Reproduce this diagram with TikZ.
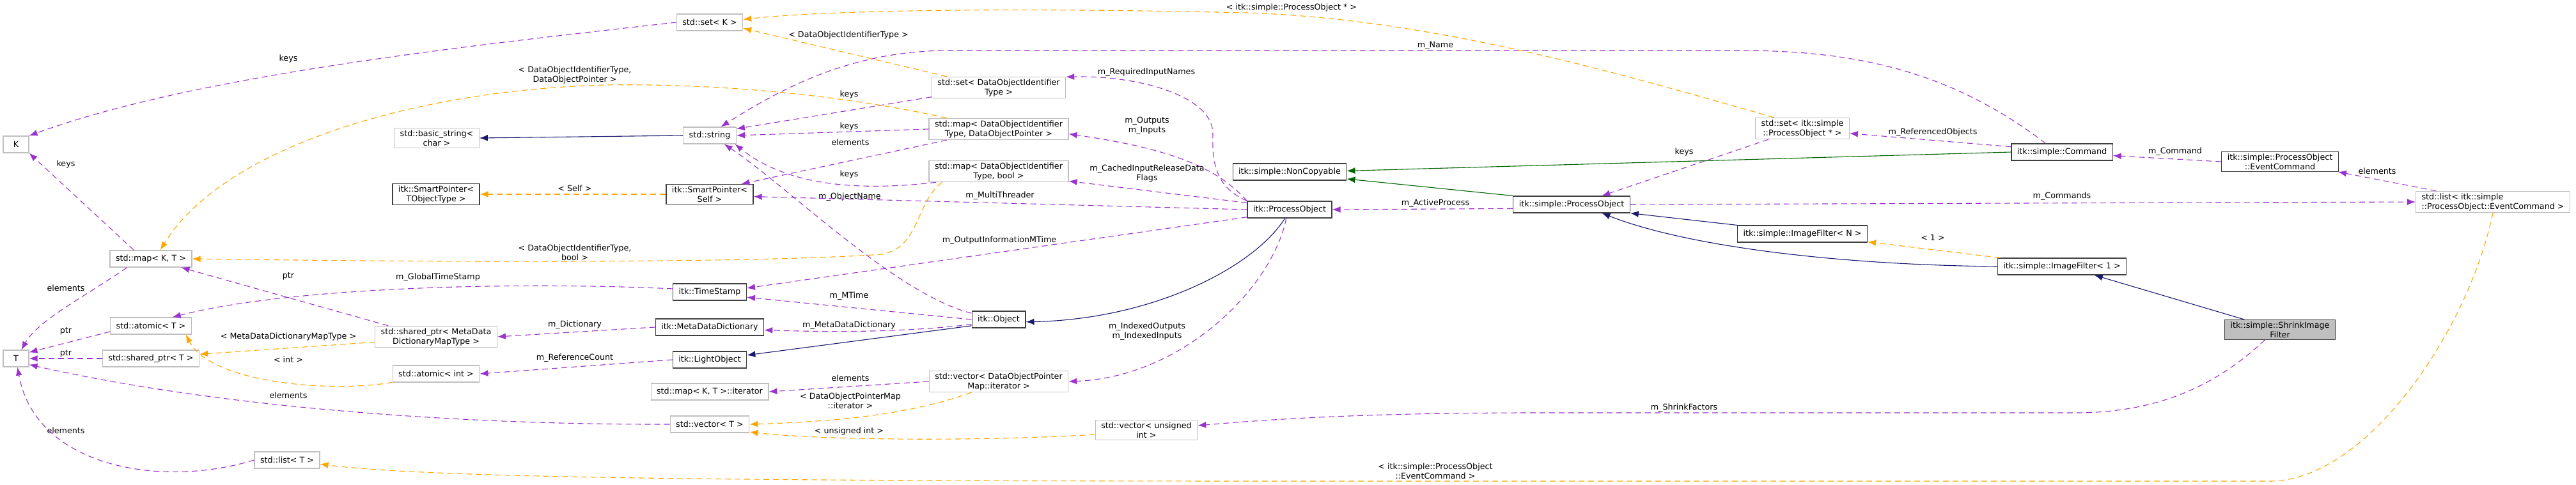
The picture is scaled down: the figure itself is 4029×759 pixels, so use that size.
\documentclass[tikz,border=0pt]{standalone}
\usepackage{fontspec}
\setmainfont{DejaVu Sans}
\usetikzlibrary{arrows.meta}
\definecolor{orchid}{HTML}{9A32CD}
\definecolor{tplorange}{HTML}{FFA500}
\definecolor{navy}{HTML}{191970}
\definecolor{pgreen}{HTML}{006400}
\definecolor{lgrey}{HTML}{BFBFBF}
\definecolor{dgrey}{HTML}{404040}

\begin{document}
\begin{tikzpicture}[
x=1pt,y=-1pt,
font=\fontsize{12.7}{15}\selectfont,
ext/.style={
  draw=lgrey,
  line width=1.2pt,
  fill=white,
  inner xsep=9pt,
  inner ysep=3pt,
  minimum height=26pt,
  minimum width=40pt,
  align=center
},
cls/.style={
  ext,
  draw=dgrey
},
self/.style={
  cls,
  fill=lgrey
},
lbl/.style={
  inner sep=0pt,
  align=center
},
mem/.style={
  draw=orchid,
  line width=1.1pt,
  dash pattern=on 9pt off 6pt,
  -{Latex[length=13pt,width=10pt]}
},
tmpl/.style={
  mem,
  draw=tplorange
},
inh/.style={
  draw=navy,
  line width=1.1pt,
  -{Latex[length=13pt,width=10pt]}
},
prot/.style={
  inh,
  draw=pgreen
}
]
\useasboundingbox (0,0) rectangle (4029,759);

\node[ext] (K) at (25,226) {K};
\node[ext] (T) at (25,561) {T};
\node[ext] (mapKT) at (236,405) {std::map< K, T >};
\node[ext] (atomT) at (236,510) {std::atomic< T >};
\node[ext] (shptrT) at (236,561) {std::shared\_ptr< T >};
\node[ext] (listT) at (449,720) {std::list< T >};
\node[ext] (bstr) at (683,216) {std::basic\_string<\\ char >};
\node[cls] (spTobj) at (682,304) {itk::SmartPointer<\\ TObjectType >};
\node[ext] (shptrMD) at (682,527) {std::shared\_ptr< MetaData\\DictionaryMapType >};
\node[ext] (atomInt) at (682,585) {std::atomic< int >};
\node[ext] (setK) at (1110,35) {std::set< K >};
\node[ext] (str) at (1110,212) {std::string};
\node[cls] (spSelf) at (1110,304) {itk::SmartPointer<\\ Self >};
\node[cls] (tstamp) at (1110,457) {itk::TimeStamp};
\node[cls] (mdd) at (1110,512) {itk::MetaDataDictionary};
\node[cls] (lobj) at (1110,563) {itk::LightObject};
\node[ext] (mapIt) at (1110,613) {std::map< K, T >::iterator};
\node[ext] (vecT) at (1110,664) {std::vector< T >};
\node[ext] (setId) at (1562,137) {std::set< DataObjectIdentifier\\ Type >};
\node[ext] (mapPtr) at (1562,202) {std::map< DataObjectIdentifier\\ Type, DataObjectPointer >};
\node[ext] (mapBool) at (1562,268) {std::map< DataObjectIdentifier\\ Type, bool >};
\node[cls] (obj) at (1562,500) {itk::Object};
\node[ext] (vecIt) at (1562,597) {std::vector< DataObjectPointer\\ Map::iterator >};
\node[ext] (vecUInt) at (1793,673) {std::vector< unsigned\\ int >};
\node[cls] (nocopy) at (2017,269) {itk::simple::NonCopyable};
\node[cls] (procobj) at (2017,328) {itk::ProcessObject};
\node[cls] (sproc) at (2458,320) {itk::simple::ProcessObject};
\node[ext] (setProc) at (2819,201) {std::set< itk::simple\\ ::ProcessObject * >};
\node[cls] (filterN) at (2819,366) {itk::simple::ImageFilter< N >};
\node[cls] (cmd) at (3225,238) {itk::simple::Command};
\node[cls] (filter1) at (3225,417) {itk::simple::ImageFilter< 1 >};
\node[cls] (evcmd) at (3566,253) {itk::simple::ProcessObject\\ ::EventCommand};
\node[self] (shrink) at (3566,516) {itk::simple::ShrinkImage\\ Filter};
\node[ext,align=left] (listEv) at (3899,316) {std::list< itk::simple\\::ProcessObject::EventCommand >};

\draw[mem] (setK.west) .. controls (700,75) and (300,120) .. (K.north east)
  node[lbl] at (451,92) {keys};
\draw[mem] (mapKT.153) -- (K.south east)
  node[lbl] at (103,257) {keys};
\draw[mem] (mapKT.200) .. controls (140,460) and (60,500) .. (T.58)
  node[lbl] at (103,451) {elements};
\draw[mem] (atomT.188) -- (T.25)
  node[lbl] at (103,518) {ptr};
\draw[mem] (shptrT.west) -- (T.east)
  node[lbl] at (103,553) {ptr};
\draw[mem] (vecT.west) .. controls (700,665) and (330,635) .. (T.-25)
  node[lbl] at (451,619) {elements};
\draw[mem] (listT.west) .. controls (250,765) and (55,730) .. (T.-80)
  node[lbl] at (103,674) {elements};
\draw[mem] (shptrMD.167) -- (mapKT.-16)
  node[lbl] at (451,432) {ptr};
\draw[mem] (tstamp.175) .. controls (800,440) and (450,450) .. (atomT.22)
  node[lbl] at (685,434) {m\_GlobalTimeStamp};
\draw[mem] (mdd.west) -- (shptrMD.east)
  node[lbl] at (899,508) {m\_Dictionary};
\draw[mem] (lobj.west) -- (atomInt.east)
  node[lbl] at (899,560) {m\_ReferenceCount};
\draw[mem] (setId.188) -- (str.14)
  node[lbl] at (1328,148) {keys};
\draw[mem] (mapPtr.west) -- (str.east)
  node[lbl] at (1328,198) {keys};
\draw[mem] (mapBool.190) .. controls (1340,300) and (1230,290) .. (str.-19)
  node[lbl] at (1328,273) {keys};
\draw[mem] (obj.167) .. controls (1400,460) and (1230,290) .. (str.-31)
  node[lbl] at (1329,308) {m\_ObjectName};
\draw[mem] (cmd.152) .. controls (3050,110) and (2900,79) .. (2720,79) -- (1485,79)
  .. controls (1330,79) and (1220,140) .. (str.38)
  node[lbl] at (2245,71) {m\_Name};
\draw[mem] (mapPtr.192) -- (spSelf.18)
  node[lbl] at (1330,223) {elements};
\draw[mem] (procobj.west) -- (spSelf.-3)
  node[lbl] at (1564,306) {m\_MultiThreader};
\draw[mem] (procobj.north west) .. controls (1905,295) and (1895,260) .. (1897,210)
  .. controls (1898,150) and (1780,118) .. (setId.9)
  node[lbl] at (1793,113) {m\_RequiredInputNames};
\draw[mem] (procobj.north west) .. controls (1910,270) and (1850,235) .. (mapPtr.-4)
  node[lbl] at (1794,197) {m\_Outputs\\m\_Inputs};
\draw[mem] (procobj.171) -- (mapBool.-8)
  node[lbl] at (1794,271) {m\_CachedInputReleaseData\\Flags};
\draw[mem] (procobj.190) -- (tstamp.6)
  node[lbl] at (1563,376) {m\_OutputInformationMTime};
\draw[mem] (obj.west) -- (tstamp.-8)
  node[lbl] at (1328,463) {m\_MTime};
\draw[mem] (obj.190) .. controls (1420,520) and (1300,520) .. (mdd.-3)
  node[lbl] at (1328,509) {m\_MetaDataDictionary};
\draw[mem] (vecIt.west) -- (mapIt.east)
  node[lbl] at (1330,592) {elements};
\draw[mem] (procobj.249) .. controls (1990,450) and (1850,590) .. (vecIt.east)
  node[lbl] at (1794,519) {m\_IndexedOutputs\\m\_IndexedInputs};
\draw[mem] (sproc.184) -- (procobj.east)
  node[lbl] at (2245,318) {m\_ActiveProcess};
\draw[mem] (setProc.198) -- (sproc.16)
  node[lbl] at (2634,238) {keys};
\draw[mem] (cmd.174) -- (setProc.-6)
  node[lbl] at (3023,207) {m\_ReferencedObjects};
\draw[mem] (evcmd.west) -- (cmd.-4)
  node[lbl] at (3402,237) {m\_Command};
\draw[mem] (listEv.169) -- (evcmd.-10)
  node[lbl] at (3718,268) {elements};
\draw[mem] (sproc.east) -- (listEv.west)
  node[lbl] at (3225,307) {m\_Commands};
\draw[mem] (shrink.-146) .. controls (3470,600) and (3380,646) .. (3246,646) -- (2400,646)
  .. controls (2150,646) and (2000,655) .. (vecUInt.5)
  node[lbl] at (2634,638) {m\_ShrinkFactors};

\draw[tmpl] (setId.168) -- (setK.-10)
  node[lbl] at (1327,55) {< DataObjectIdentifierType >};
\draw[tmpl] (setProc.159) .. controls (2550,120) and (2250,30) .. (1950,20)
  .. controls (1600,12) and (1300,15) .. (setK.5)
  node[lbl] at (2020,12) {< itk::simple::ProcessObject * >};
\draw[tmpl] (mapPtr.168) .. controls (1350,155) and (1150,130) .. (950,133)
  .. controls (650,140) and (350,230) .. (mapKT.43)
  node[lbl] at (899,117) {< DataObjectIdentifierType,\\DataObjectPointer >};
\draw[tmpl] (mapBool.191) .. controls (1430,320) and (1440,385) .. (1380,398)
  .. controls (1200,410) and (800,412) .. (mapKT.east)
  node[lbl] at (899,395) {< DataObjectIdentifierType,\\bool >};
\draw[tmpl] (shptrMD.185) -- (shptrT.5)
  node[lbl] at (451,527) {< MetaDataDictionaryMapType >};
\draw[tmpl] (atomInt.191) .. controls (520,615) and (330,600) .. (atomT.-14)
  node[lbl] at (451,563) {< int >};
\draw[tmpl] (spSelf.west) -- (spTobj.east)
  node[lbl] at (899,295) {< Self >};
\draw[tmpl] (vecIt.202) .. controls (1420,650) and (1300,660) .. (vecT.east)
  node[lbl] at (1330,627) {< DataObjectPointerMap\\::iterator >};
\draw[tmpl] (vecUInt.185) .. controls (1550,690) and (1300,690) .. (vecT.-11)
  node[lbl] at (1328,675) {< unsigned int >};
\draw[tmpl] (listEv.south) .. controls (3860,520) and (3700,753) .. (3550,753) -- (2000,753)
  .. controls (1000,753) and (650,745) .. (listT.-7)
  node[lbl] at (2245,737) {< itk::simple::ProcessObject\\::EventCommand >};
\draw[tmpl] (filter1.172) -- (filterN.-7)
  node[lbl] at (3023,372) {< 1 >};

\draw[inh] (str.west) -- (bstr.east);
\draw[inh] (obj.193) -- (lobj.7);
\draw[inh] (procobj.242) .. controls (1960,420) and (1800,500) .. (obj.-5);
\draw[inh] (filterN.north west) -- (sproc.south east);
\draw[inh] (filter1.west) .. controls (2900,415) and (2650,390) .. (sproc.-16);
\draw[inh] (shrink.164) -- (filter1.-15);

\draw[prot] (sproc.north west) -- (nocopy.-7);
\draw[prot] (cmd.west) -- (nocopy.1);
\end{tikzpicture}
\end{document}
